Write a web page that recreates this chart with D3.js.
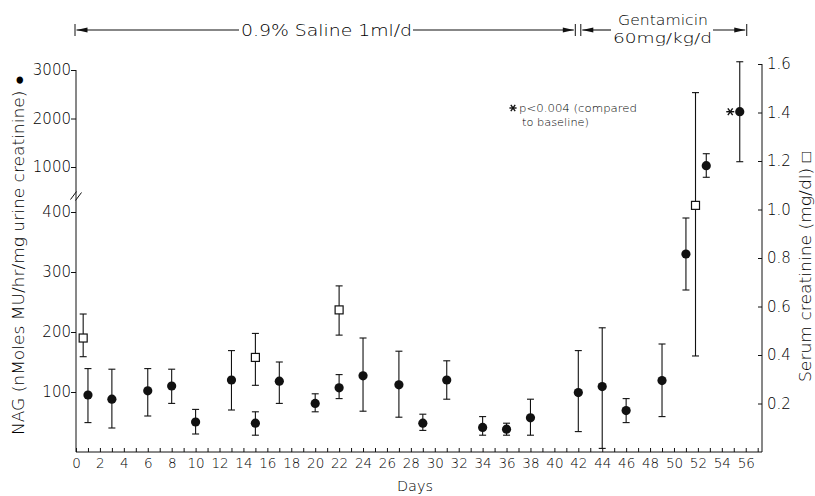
<!DOCTYPE html>
<html>
<head>
<meta charset="utf-8">
<script src="https://cdn.jsdelivr.net/npm/d3@7"></script>
<style>
  html, body { margin: 0; padding: 0; background: #fff; }
  svg { display: block; }
  text { font-family: "DejaVu Sans", sans-serif; font-weight: 300; fill: #000; }
</style>
</head>
<body>
<svg id="chart" width="815" height="496"></svg>
<script>
// ---------- data ----------
const nagDays = [1, 3, 6, 8, 10, 13, 15, 17, 20, 22, 24, 27, 29, 31, 34, 36, 38, 42, 44, 46, 49, 51, 52.7, 55.5];
const nagMean = [95, 88, 102, 110, 50, 120, 48, 118, 81, 107, 127, 112, 48, 120, 41, 38, 57, 99, 109, 69, 119, 330, 1027, 2140];
const nagHigh = [139, 138, 139, 138, 71, 169, 67, 150, 97, 129, 190, 168, 63, 152, 59, 48, 88, 169, 207, 89, 180, 390, 1274, 3170];
const nagLow  = [49, 40, 60, 81, 30, 70, 28, 81, 67, 89, 68, 58, 36, 88, 28, 28, 28, 34, 6, 49, 59, 270, 788, 1109];

const crDays = [0.6, 15, 22, 51.8];
const crMean = [0.47, 0.39, 0.586, 1.017];
const crHigh = [0.569, 0.489, 0.685, 1.482];
const crLow  = [0.393, 0.275, 0.482, 0.396];

const nagLowTicks = [100, 200, 300, 400];
const nagHighTicks = [1000, 2000, 3000];
const crTicks = [0.2, 0.4, 0.6, 0.8, 1.0, 1.2, 1.4, 1.6];
const sigDay = 55.5;

const salineLabel = "0.9% Saline  1ml/d";
const gentLabel1 = "Gentamicin";
const gentLabel2 = "60mg/kg/d";
const salinePeriod = [0, 42];
const gentPeriod = [42, 56];

// ---------- scales ----------
const svg = d3.select("#chart");
const x = d3.scaleLinear().domain([0, 57.36]).range([76, 762]);
const yLow = d3.scaleLinear().domain([0, 400]).range([452, 212]);
const yHigh = d3.scaleLinear().domain([1000, 3000]).range([167, 70]);
const yNag = v => (v <= 420 ? yLow(v) : yHigh(v));
const yCr = d3.scaleLinear().domain([0, 1.6]).range([452, 64]);

const ink = "#111";
const FONT = '"DejaVu Sans", sans-serif';

// ---------- axes ----------
const xAxis = d3.axisBottom(x)
  .tickValues(d3.range(0, 58, 1))
  .tickSizeInner(-4).tickSizeOuter(0)
  .tickFormat(d => (d % 2 === 0 && d <= 56 ? d : ""));
const gx = svg.append("g").attr("transform", "translate(0,452)").call(xAxis);
gx.select(".domain").attr("stroke", ink).attr("d", "M76,0H762");
gx.selectAll(".tick line").attr("stroke", ink);
gx.selectAll(".tick text").attr("y", 6).attr("dy", "0.71em")
  .style("font-size", "13.5px").style("font-family", FONT).style("font-weight", 300).attr("fill", "#000");

// left axis (broken)
const gl = svg.append("g").attr("transform", "translate(76,0)");
gl.append("line").attr("x1", 0).attr("x2", 0).attr("y1", yHigh(3000)).attr("y2", 452).attr("stroke", ink);
const gLowAx = gl.append("g").call(d3.axisLeft(yLow).tickValues(nagLowTicks).tickSize(5).tickFormat(d3.format("d")));
const gHighAx = gl.append("g").call(d3.axisLeft(yHigh).tickValues(nagHighTicks).tickSize(5).tickFormat(d3.format("d")));
[gLowAx, gHighAx].forEach(g => {
  g.select(".domain").remove();
  g.selectAll(".tick line").attr("stroke", ink);
  g.selectAll(".tick text").attr("x", -5).style("font-size", "15px").style("font-family", FONT)
    .style("font-weight", 300).attr("fill", "#000");
});
// break marks
const yb = 196;
[-2.5, 2.5].forEach(o => {
  gl.append("line").attr("x1", -3 + o).attr("x2", 3 + o).attr("y1", yb + 4 + o * 0.2).attr("y2", yb - 4 + o * 0.2)
    .attr("stroke", ink).attr("stroke-width", 1);
});

// right axis
const gr = svg.append("g").attr("transform", "translate(762,0)");
gr.append("line").attr("x1", 0).attr("x2", 0).attr("y1", yCr(1.6)).attr("y2", 452).attr("stroke", ink);
const gRAx = gr.append("g").call(d3.axisRight(yCr).tickValues(crTicks).tickSizeInner(-4).tickSizeOuter(0)
  .tickFormat(d3.format(".1f")));
gRAx.select(".domain").remove();
gRAx.selectAll(".tick line").attr("stroke", ink);
gRAx.selectAll(".tick text").attr("x", 5).style("font-size", "15px").style("font-family", FONT)
  .style("font-weight", 300).attr("fill", "#000");

// axis titles
svg.append("text")
  .attr("transform", "translate(24,255) rotate(-90)")
  .attr("text-anchor", "middle")
  .attr("textLength", 360).attr("lengthAdjust", "spacingAndGlyphs")
  .style("font-size", "15px")
  .text("NAG (nMoles MU/hr/mg urine creatinine) \u25CF");
svg.append("text")
  .attr("transform", "translate(811,267) rotate(-90)")
  .attr("text-anchor", "middle")
  .attr("textLength", 230).attr("lengthAdjust", "spacingAndGlyphs")
  .style("font-size", "15px")
  .text("Serum creatinine (mg/dl) \u25A1");
svg.append("text")
  .attr("x", 415).attr("y", 491)
  .attr("text-anchor", "middle")
  .attr("textLength", 36).attr("lengthAdjust", "spacingAndGlyphs")
  .style("font-size", "14px")
  .text("Days");

// ---------- error bars + points ----------
function errBars(g, days, hi, lo, yf) {
  const cap = 3.5;
  const gg = g.append("g").attr("stroke", ink).attr("stroke-width", 1.1);
  days.forEach((d, i) => {
    const cx = x(d);
    gg.append("line").attr("x1", cx).attr("x2", cx).attr("y1", yf(hi[i])).attr("y2", yf(lo[i]));
    gg.append("line").attr("x1", cx - cap).attr("x2", cx + cap).attr("y1", yf(hi[i])).attr("y2", yf(hi[i]));
    gg.append("line").attr("x1", cx - cap).attr("x2", cx + cap).attr("y1", yf(lo[i])).attr("y2", yf(lo[i]));
  });
}
const plot = svg.append("g");
errBars(plot, nagDays, nagHigh, nagLow, yNag);
errBars(plot, crDays, crHigh, crLow, yCr);

plot.selectAll("circle.nag").data(nagDays).join("circle")
  .attr("class", "nag")
  .attr("cx", d => x(d))
  .attr("cy", (d, i) => yNag(nagMean[i]))
  .attr("r", 4.6)
  .attr("fill", ink);

plot.selectAll("rect.cr").data(crDays).join("rect")
  .attr("class", "cr")
  .attr("x", d => x(d) - 4)
  .attr("y", (d, i) => yCr(crMean[i]) - 4)
  .attr("width", 8).attr("height", 8)
  .attr("fill", "#fff").attr("stroke", ink).attr("stroke-width", 1.2);

// asterisk helper
function asterisk(cx, cy, r) {
  const g = svg.append("g").attr("stroke", ink).attr("stroke-width", 1.4);
  g.append("line").attr("x1", cx - r).attr("x2", cx + r).attr("y1", cy).attr("y2", cy);
  g.append("line").attr("x1", cx - r * 0.6).attr("x2", cx + r * 0.6).attr("y1", cy - r * 0.85).attr("y2", cy + r * 0.85);
  g.append("line").attr("x1", cx - r * 0.6).attr("x2", cx + r * 0.6).attr("y1", cy + r * 0.85).attr("y2", cy - r * 0.85);
}
const sigIdx = nagDays.indexOf(sigDay);
asterisk(x(sigDay) - 9.5, yNag(nagMean[sigIdx]), 4);

// significance note
asterisk(513, 108, 3.6);
svg.append("text").attr("x", 519).attr("y", 112).attr("textLength", 118).attr("lengthAdjust", "spacingAndGlyphs")
  .style("font-size", "10.5px").text("p<0.004 (compared");
svg.append("text").attr("x", 522).attr("y", 126).attr("textLength", 67).attr("lengthAdjust", "spacingAndGlyphs")
  .style("font-size", "10.5px").text("to baseline)");

// ---------- treatment period arrows ----------
const ay = 30;
function bar(xp) {
  svg.append("line").attr("x1", xp).attr("x2", xp).attr("y1", ay - 6).attr("y2", ay + 6).attr("stroke", ink);
}
function arrowHead(xp, dir) {
  svg.append("path")
    .attr("d", `M${xp},${ay} L${xp - dir * 11},${ay - 2.6} L${xp - dir * 11},${ay + 2.6} Z`)
    .attr("fill", ink);
}
function hline(x1, x2) {
  svg.append("line").attr("x1", x1).attr("x2", x2).attr("y1", ay).attr("y2", ay).attr("stroke", ink).attr("stroke-width", 1.1);
}
// saline
const s0 = x(salinePeriod[0]) - 1, s1 = x(salinePeriod[1]) - 3;
bar(s0); arrowHead(s0 + 1.5, -1); hline(s0 + 1.5, 239);
svg.append("text").attr("x", 241).attr("y", ay + 6)
  .attr("textLength", 171).attr("lengthAdjust", "spacingAndGlyphs")
  .style("font-size", "16px").text(salineLabel);
hline(413, s1 - 1.5); arrowHead(s1 - 1.5, 1); bar(s1);
// gentamicin
const g0 = x(gentPeriod[0]) + 2.5, g1 = x(gentPeriod[1]) + 1;
bar(g0); arrowHead(g0 + 1.5, -1); hline(g0 + 1.5, 611);
svg.append("text").attr("x", 618).attr("y", 25)
  .attr("textLength", 90).attr("lengthAdjust", "spacingAndGlyphs")
  .style("font-size", "14.5px").text(gentLabel1);
svg.append("text").attr("x", 613).attr("y", 43)
  .attr("textLength", 99).attr("lengthAdjust", "spacingAndGlyphs")
  .style("font-size", "14.5px").text(gentLabel2);
hline(713, g1 - 1.5); arrowHead(g1 - 1.5, 1); bar(g1);
</script>
</body>
</html>
